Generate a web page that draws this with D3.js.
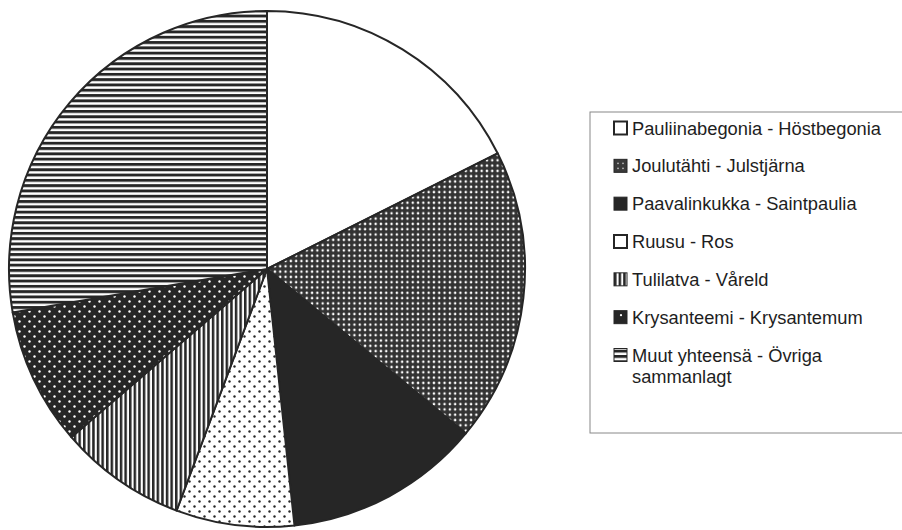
<!DOCTYPE html>
<html>
<head>
<meta charset="utf-8">
<script src="https://cdn.jsdelivr.net/npm/d3@7"></script>
<style>
  body { margin: 0; background: #fff; }
  svg { display: block; }
  .legend text { font-family: "Liberation Sans", Arial, sans-serif; font-size: 18.3px; fill: #1e1e1e; }
</style>
</head>
<body>
<svg id="chart" width="902" height="530"></svg>
<script>
// Shares (%)
const categories = [
  "Pauliinabegonia - Höstbegonia",
  "Joulutähti - Julstjärna",
  "Paavalinkukka - Saintpaulia",
  "Ruusu - Ros",
  "Tulilatva - Våreld",
  "Krysanteemi - Krysantemum",
  "Muut yhteensä - Övriga sammanlagt"
];
const shares = [17.6, 18.4, 12.3, 7.4, 8.0, 8.6, 27.7];
const patternIds = ["white", "denseDots", "solid", "blackDots", "vStripes", "whiteDots", "hStripes"];

const svg = d3.select("#chart");
const ink = "#262626";
const defs = svg.append("defs");

// fill patterns, black & white print style
function pattern(id, w, h, bg, build) {
  const p = defs.append("pattern")
    .attr("id", id)
    .attr("patternUnits", "userSpaceOnUse")
    .attr("width", w).attr("height", h);
  p.append("rect").attr("width", w).attr("height", h).attr("fill", bg);
  if (build) build(p);
}
pattern("white", 10, 10, "#fff");
pattern("solid", 10, 10, ink);
pattern("denseDots", 5.3, 5.3, "#333", p => {
  p.append("circle").attr("cx", 2.65).attr("cy", 2.65).attr("r", 1.25).attr("fill", "#fff");
});
pattern("blackDots", 10, 10, "#fff", p => {
  [[2.5, 2.5], [7.5, 7.5]].forEach(d =>
    p.append("circle").attr("cx", d[0]).attr("cy", d[1]).attr("r", 1.2).attr("fill", ink));
});
pattern("whiteDots", 10, 10, ink, p => {
  [[2.5, 2.5], [7.5, 7.5]].forEach(d =>
    p.append("circle").attr("cx", d[0]).attr("cy", d[1]).attr("r", 1.2).attr("fill", "#fff"));
});
pattern("vStripes", 4.6, 10, "#fff", p => {
  p.append("rect").attr("width", 2.5).attr("height", 10).attr("fill", ink);
});
pattern("hStripes", 10, 5.3, "#fff", p => {
  p.append("rect").attr("width", 10).attr("height", 2.9).attr("fill", ink);
});

// legend swatch fills (the small boxes are simplified in the original)
const swatchFill = ["#fff", "#3a3a3a", ink, "#fff", "url(#vStripes)", ink, "url(#hStripes)"];

// pie
const cx = 267, cy = 269, radius = 258;
const pie = d3.pie().sort(null).value(d => d);
const arc = d3.arc().innerRadius(0).outerRadius(radius);

const g = svg.append("g").attr("transform", "translate(" + cx + "," + cy + ")");
g.selectAll("path.slice")
  .data(pie(shares))
  .enter().append("path")
  .attr("class", "slice")
  .attr("d", arc)
  .attr("fill", (d, i) => "url(#" + patternIds[i] + ")")
  .attr("stroke", ink)
  .attr("stroke-width", 2)
  .attr("stroke-linejoin", "round");

// legend
const lx = 590, ly = 112, lw = 320, lh = 321;
const legend = svg.append("g").attr("class", "legend");
legend.append("rect")
  .attr("x", lx).attr("y", ly).attr("width", lw).attr("height", lh)
  .attr("fill", "#fff").attr("stroke", "#888").attr("stroke-width", 1);

const rowY = d3.scalePoint().domain(d3.range(categories.length)).range([128, 355]);

const item = legend.selectAll("g.item")
  .data(categories)
  .enter().append("g")
  .attr("class", "item")
  .attr("transform", (d, i) => "translate(614," + rowY(i) + ")");

item.append("rect")
  .attr("x", 0).attr("y", -6.5)
  .attr("width", 13).attr("height", 13)
  .attr("fill", (d, i) => swatchFill[i])
  .attr("stroke", ink)
  .attr("stroke-width", (d, i) => (i === 0 || i === 3) ? 2 : 1);

// a few marks inside the small boxes, as in the original
item.filter((d, i) => i === 1).each(function () {
  const s = d3.select(this);
  [[4, -2.5], [9, -2.5], [4, 2.5], [9, 2.5]].forEach(p =>
    s.append("circle").attr("cx", p[0]).attr("cy", p[1]).attr("r", 0.9).attr("fill", "#bbb"));
});
item.filter((d, i) => i === 5).append("circle")
  .attr("cx", 7).attr("cy", -2).attr("r", 1.1).attr("fill", "#fff");

item.append("text")
  .attr("x", 18)
  .each(function (d) {
    const t = d3.select(this);
    const parts = d.indexOf("Övriga") >= 0 ? ["Muut yhteensä - Övriga", "sammanlagt"] : [d];
    parts.forEach((s, k) => {
      t.append("tspan").attr("x", 18).attr("dy", k === 0 ? "0.36em" : 21).text(s);
    });
  });
</script>
</body>
</html>
